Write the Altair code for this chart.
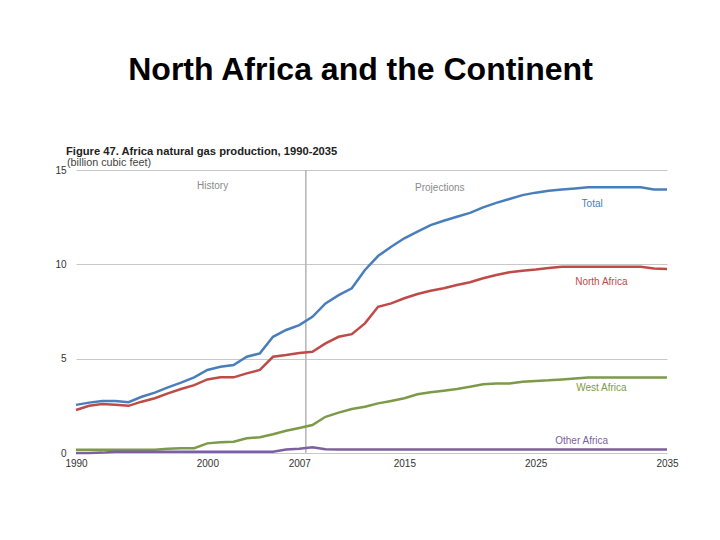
import altair as alt
import pandas as pd

years = list(range(1990, 2036))

total = [2.55, 2.67, 2.75, 2.75, 2.69, 2.98, 3.20, 3.48, 3.73, 4.01,
         4.40, 4.57, 4.66, 5.10, 5.28, 6.16, 6.52, 6.78, 7.22, 7.93,
         8.37, 8.73, 9.70, 10.44, 10.93, 11.38, 11.73, 12.08, 12.31, 12.52,
         12.73, 13.02, 13.26, 13.46, 13.67, 13.80, 13.90, 13.97, 14.02, 14.08,
         14.08, 14.08, 14.08, 14.08, 13.97, 13.97]

north_africa = [2.28, 2.50, 2.60, 2.56, 2.50, 2.72, 2.90, 3.16, 3.39, 3.60,
                3.90, 4.01, 4.01, 4.22, 4.40, 5.10, 5.19, 5.30, 5.37, 5.81,
                6.16, 6.30, 6.87, 7.75, 7.93, 8.20, 8.43, 8.60, 8.73, 8.90,
                9.05, 9.26, 9.43, 9.58, 9.66, 9.72, 9.80, 9.87, 9.87, 9.87,
                9.87, 9.87, 9.87, 9.87, 9.78, 9.75]

west_africa = [0.17, 0.17, 0.17, 0.17, 0.17, 0.17, 0.17, 0.22, 0.25, 0.25,
               0.51, 0.57, 0.60, 0.78, 0.83, 0.99, 1.18, 1.33, 1.48, 1.92,
               2.14, 2.33, 2.45, 2.63, 2.76, 2.90, 3.11, 3.22, 3.30, 3.39,
               3.51, 3.64, 3.69, 3.69, 3.78, 3.82, 3.85, 3.90, 3.95, 4.00,
               4.00, 4.00, 4.00, 4.00, 4.00, 4.00]

other_africa = [0.00, 0.00, 0.02, 0.07, 0.07, 0.07, 0.07, 0.07, 0.07, 0.07,
                0.07, 0.07, 0.07, 0.07, 0.07, 0.07, 0.18, 0.22, 0.30, 0.20,
                0.18, 0.18, 0.18, 0.18, 0.18, 0.18, 0.18, 0.18, 0.18, 0.18,
                0.18, 0.18, 0.18, 0.18, 0.18, 0.18, 0.18, 0.18, 0.18, 0.18,
                0.18, 0.18, 0.18, 0.18, 0.18, 0.18]

series_names = ["Total", "North Africa", "West Africa", "Other Africa"]
series_colors = ["#4a7ebb", "#be4b48", "#7d9a48", "#7b5f9e"]

label_names = ["Total", "North Africa", "West Africa", "Other Africa"]
label_years = [2029.3, 2030.0, 2030.0, 2028.5]
label_values = [13.2, 9.05, 3.42, 0.62]

note_texts = ["History", "Projections"]
note_years = [2000.4, 2017.7]
note_values = [14.15, 14.05]

divider_year = [2007.5]

x_ticks = [1990, 2000, 2007, 2015, 2025, 2035]
y_ticks = [0, 5, 10, 15]

FONT = "Liberation Sans"

rows = []
for name, vals in zip(series_names, [total, north_africa, west_africa, other_africa]):
    for yr, v in zip(years, vals):
        rows.append({"year": yr, "value": v, "series": name})
df = pd.DataFrame(rows)

labels_df = pd.DataFrame({"year": label_years, "value": label_values, "series": label_names})
notes_df = pd.DataFrame({"year": note_years, "value": note_values, "text": note_texts})
divider_df = pd.DataFrame({"year": divider_year})
caption_df = pd.DataFrame({"text": ["Figure 47. Africa natural gas production, 1990-2035"]})
unit_df = pd.DataFrame({"text": ["(billion cubic feet)"]})

xscale = alt.Scale(domain=[1990, 2035], nice=False, zero=False)
yscale = alt.Scale(domain=[0, 15], nice=False)
color_scale = alt.Scale(domain=series_names, range=series_colors)

x_axis = alt.Axis(values=x_ticks, format="d", title=None, grid=False, domain=False,
                  ticks=False, labelPadding=5, labelFontSize=10, labelFont=FONT,
                  labelColor="#333333", labelFlush=False)
y_axis = alt.Axis(values=y_ticks, title=None, grid=True, gridColor="#c8c8c8",
                  domain=False, ticks=False, labelPadding=10, labelFontSize=10,
                  labelFont=FONT, labelColor="#333333")

base = alt.Chart(df)

divider = alt.Chart(divider_df).mark_rule(color="#b4b4b4", strokeWidth=1.5).encode(
    x=alt.X("year:Q", scale=xscale, axis=x_axis)
)

lines = base.mark_line(strokeWidth=2.5).encode(
    x=alt.X("year:Q", scale=xscale, axis=x_axis),
    y=alt.Y("value:Q", scale=yscale, axis=y_axis),
    color=alt.Color("series:N", scale=color_scale, legend=None),
    detail="series:N",
)

series_labels = alt.Chart(labels_df).mark_text(
    font=FONT, fontSize=10, align="center", baseline="middle"
).encode(
    x=alt.X("year:Q", scale=xscale),
    y=alt.Y("value:Q", scale=yscale),
    text="series:N",
    color=alt.Color("series:N", scale=color_scale, legend=None),
)

notes = alt.Chart(notes_df).mark_text(
    font=FONT, fontSize=10, align="center", baseline="middle", color="#8a8a8a"
).encode(
    x=alt.X("year:Q", scale=xscale),
    y=alt.Y("value:Q", scale=yscale),
    text="text:N",
)

caption = alt.Chart(caption_df).mark_text(
    font=FONT, fontSize=11.2, fontWeight="bold", align="left", baseline="alphabetic",
    color="#222222"
).encode(x=alt.value(-10), y=alt.value(-15), text="text:N")

unit = alt.Chart(unit_df).mark_text(
    font=FONT, fontSize=10.8, align="left", baseline="alphabetic", color="#444444"
).encode(x=alt.value(-9), y=alt.value(-4), text="text:N")

chart = alt.layer(divider, lines, series_labels, notes, caption, unit).properties(
    width=591,
    height=283,
    padding={"left": 68, "top": 162, "right": 40, "bottom": 60},
    autosize=alt.AutoSizeParams(type="none"),
    title=alt.TitleParams(
        text="North Africa and the Continent",
        font=FONT, fontSize=32, fontWeight="bold", color="#000000",
        anchor="middle", frame="group", baseline="alphabetic", offset=34, dx=-11,
    ),
).configure_view(stroke=None)

chart.save("out.html", embed_options={"renderer": "svg", "actions": False})
